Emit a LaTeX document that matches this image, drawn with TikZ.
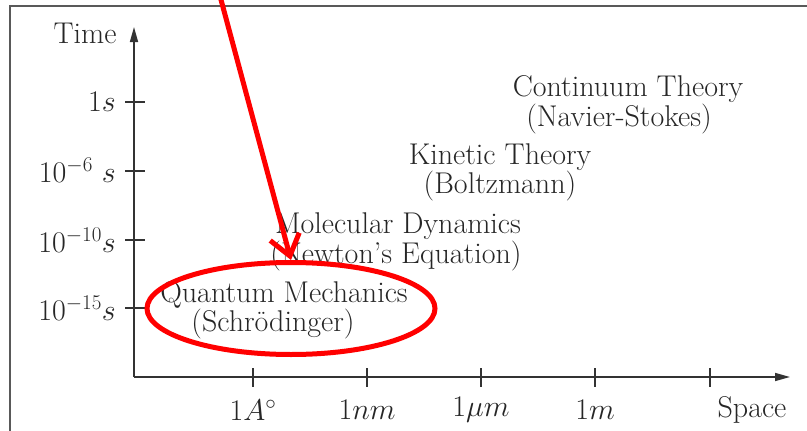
\RequirePackage{fix-cm}
\documentclass[tikz,border=0pt]{standalone}
\usetikzlibrary{arrows.meta,shapes.geometric}
\begin{document}
\begin{tikzpicture}[x=1pt,y=-1pt,
  lbl/.style={inner sep=0pt,text=black!85,font=\fontsize{30}{27}\selectfont},
  pair/.style={lbl,align=center},
  axis/.style={line width=1.6pt,black!80},
  tick/.style={line width=1.6pt,black!80},
  frame/.style={line width=1.8pt,black!65},
  redmark/.style={red,line width=5pt}]
\useasboundingbox (0,0) rectangle (807,431);
% frame
\draw[frame] (10,431) -- (10,6) -- (807,6);
% axes
\coordinate (origin) at (134,377);
\coordinate (ytop) at (134,27);
\coordinate (xright) at (790,377);
\draw[axis,-{Triangle[length=15pt,width=8pt]}] (origin) -- (ytop);
\draw[axis,-{Triangle[length=15pt,width=8pt]}] (origin) -- (xright);
% y ticks
\foreach \yy in {102,171,240,308} \draw[tick] (125,\yy) -- (145,\yy);
% x ticks
\foreach \xx in {253,367,481,595,710} \draw[tick] (\xx,368) -- (\xx,387);
% axis labels
\node[lbl] (time) at (85,33) {Time};
\node[lbl,anchor=east] (t1) at (116,102) {$1s$};
\node[lbl,anchor=east] (t2) at (116,170) {$10^{-6}\ s$};
\node[lbl,anchor=east] (t3) at (116,240) {$10^{-10}s$};
\node[lbl,anchor=east] (t4) at (116,308) {$10^{-15}s$};
\node[lbl] (s1) at (253,410) {$1A^{\circ}$};
\node[lbl] (s2) at (367,410) {$1nm$};
\node[lbl] (s3) at (481,410) {$1\mu m$};
\node[lbl] (s4) at (595,410) {$1m$};
\node[lbl] (space) at (752,410) {Space};
% regimes
\node[pair] (ct) at (628,105) {Continuum Theory\\(Navier-Stokes)\hspace*{18pt}};
\node[pair] (kt) at (500,172.5) {Kinetic Theory\\(Boltzmann)};
\node[pair] (md) at (398,242) {Molecular Dynamics\\(Newton's Equation)\hspace*{4pt}};
\node[pair] (qm) at (284,310.5) {Quantum Mechanics\\(Schr\"odinger)\hspace*{22pt}};
% red annotation
\node[redmark,draw,ellipse,minimum width=288pt,minimum height=92pt,inner sep=0pt] (ring) at (291,308.5) {};
\coordinate (redstart) at (220,-4);
\draw[redmark,-{Straight Barb[length=20pt,width=30pt]}] (redstart) -- (ring.north);
\end{tikzpicture}
\end{document}
